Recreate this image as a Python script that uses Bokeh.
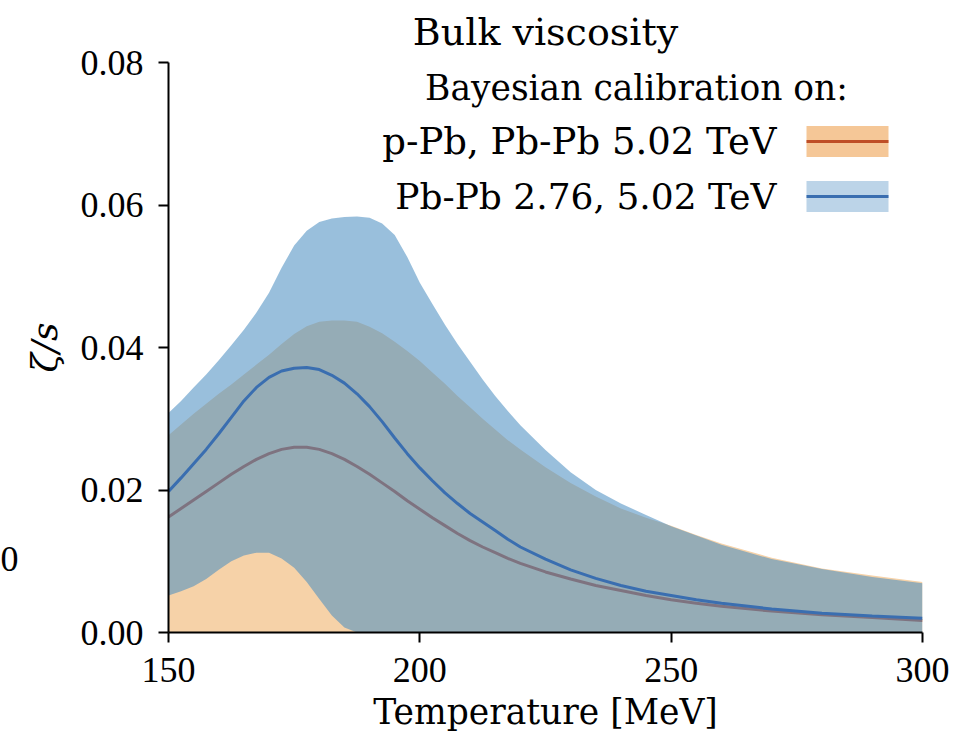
from bokeh.plotting import figure
from bokeh.layouts import row
from bokeh.models import (ColumnDataSource, FixedTicker, NumeralTickFormatter,
                          Label, BoxAnnotation, Range1d)
from bokeh.embed import file_html
from bokeh.resources import INLINE

# ---------------- data ----------------
temperature = [150, 152.5, 155, 157.5, 160, 162.5, 165, 167.5, 170, 172.5,
               175, 177.5, 180, 182.5, 185, 187.5, 190, 192.5, 195, 197.5,
               200, 202.5, 205, 207.5, 210, 212.5, 215, 217.5, 220, 225,
               230, 235, 240, 245, 250, 255, 260, 270, 280, 290, 300]

# p-Pb, Pb-Pb 5.02 TeV  (orange band + median)
ppb_lower = [0.0] * 41
ppb_upper = [0.0277, 0.0292, 0.0307, 0.0321, 0.0335, 0.0348, 0.0362, 0.0376,
             0.0390, 0.0405, 0.0419, 0.0430, 0.0436, 0.0438, 0.0438, 0.0436,
             0.0429, 0.0420, 0.0408, 0.0395, 0.0381, 0.0365, 0.0349, 0.0332,
             0.0316, 0.0300, 0.0285, 0.0270, 0.0257, 0.0232, 0.0210, 0.0191,
             0.0174, 0.0161, 0.0150, 0.0137, 0.0125, 0.0105, 0.0090, 0.0080,
             0.0071]
ppb_median = [0.0162, 0.0174, 0.0186, 0.0198, 0.0210, 0.0222, 0.0233, 0.0243,
              0.0251, 0.0257, 0.0260, 0.0260, 0.0257, 0.0251, 0.0243, 0.0233,
              0.0222, 0.0210, 0.0198, 0.0185, 0.0173, 0.0161, 0.0150, 0.0139,
              0.0129, 0.0120, 0.0112, 0.0104, 0.0097, 0.0085, 0.0075, 0.0066,
              0.0059, 0.0052, 0.0046, 0.0041, 0.0037, 0.0030, 0.0025, 0.0021,
              0.0017]

# Pb-Pb 2.76, 5.02 TeV  (blue band + median)
pbpb_lower = [0.0052, 0.0058, 0.0065, 0.0075, 0.0088, 0.0100, 0.0108, 0.0112,
              0.0112, 0.0104, 0.0091, 0.0071, 0.0047, 0.0024, 0.0007, 0.0,
              0.0, 0.0, 0.0, 0.0, 0.0, 0.0, 0.0, 0.0, 0.0, 0.0, 0.0, 0.0, 0.0,
              0.0, 0.0, 0.0, 0.0, 0.0, 0.0, 0.0, 0.0, 0.0, 0.0, 0.0, 0.0]
pbpb_upper = [0.0308, 0.0325, 0.0344, 0.0362, 0.0382, 0.0403, 0.0425, 0.0449,
              0.0477, 0.0512, 0.0543, 0.0564, 0.0576, 0.0581, 0.0583, 0.0584,
              0.0582, 0.0574, 0.0558, 0.0527, 0.0491, 0.0461, 0.0432, 0.0405,
              0.0380, 0.0355, 0.0332, 0.0311, 0.0291, 0.0256, 0.0225, 0.0200,
              0.0181, 0.0165, 0.0149, 0.0136, 0.0123, 0.0103, 0.0089, 0.0078,
              0.0069]
pbpb_median = [0.0198, 0.0217, 0.0237, 0.0257, 0.0279, 0.0302, 0.0325, 0.0344,
               0.0358, 0.0367, 0.0371, 0.0372, 0.0369, 0.0361, 0.0350, 0.0335,
               0.0317, 0.0296, 0.0273, 0.0251, 0.0231, 0.0213, 0.0196, 0.0181,
               0.0167, 0.0155, 0.0143, 0.0131, 0.0120, 0.0103, 0.0088, 0.0076,
               0.0066, 0.0058, 0.0052, 0.0046, 0.0041, 0.0033, 0.0027, 0.0023,
               0.0020]

x_ticks = [150, 200, 250, 300]
y_ticks = [0.0, 0.02, 0.04, 0.06, 0.08]
title_text = "Bulk viscosity"
legend_title = "Bayesian calibration on:"
series_labels = ["p-Pb, Pb-Pb 5.02 TeV", "Pb-Pb 2.76, 5.02 TeV"]
x_label = "Temperature [MeV]"
y_label = "ζ/s"
edge_fragment = "0"   # tick-label fragment of a neighbouring panel

# ---------------- styles ----------------
TEXT_FONT = "DejaVu Serif"
TICK_FONT = "Liberation Serif"
ORANGE_FILL = "#f6d2a8"
ORANGE_LINE = "#c0502a"
BLUE_FILL = "#4b8fc2"
BLUE_ALPHA = 0.57
BLUE_LINE = "#3a6eb0"

src = ColumnDataSource(dict(t=temperature, ppb_lo=ppb_lower, ppb_hi=ppb_upper,
                            ppb_med=ppb_median, pb_lo=pbpb_lower,
                            pb_hi=pbpb_upper, pb_med=pbpb_median))

STUB_W = 18
p = figure(width=956 - STUB_W, height=745, x_range=Range1d(150, 300),
           y_range=Range1d(0, 0.08), output_backend="svg",
           toolbar_location=None, min_border_left=168 - STUB_W,
           min_border_right=34, min_border_top=62, min_border_bottom=113)
p.background_fill_color = "white"
p.border_fill_color = "white"
p.outline_line_color = None
p.xgrid.visible = False
p.ygrid.visible = False

p.title.text = title_text
p.title.align = "center"
p.title.vertical_align = "top"
p.title.text_font = TEXT_FONT
p.title.text_font_size = "38px"
p.title.text_font_style = "normal"
p.title.text_color = "black"
p.title.standoff = 14

p.varea(x="t", y1="ppb_lo", y2="ppb_hi", source=src,
        fill_color=ORANGE_FILL, fill_alpha=1.0)
p.line(x="t", y="ppb_med", source=src, line_color=ORANGE_LINE, line_width=3)
p.varea(x="t", y1="pb_lo", y2="pb_hi", source=src,
        fill_color=BLUE_FILL, fill_alpha=BLUE_ALPHA)
p.line(x="t", y="pb_med", source=src, line_color=BLUE_LINE, line_width=3)

for ax in (p.xaxis[0], p.yaxis[0]):
    ax.axis_line_width = 2
    ax.axis_line_color = "black"
    ax.major_tick_line_width = 2
    ax.major_tick_line_color = "black"
    ax.major_tick_out = 10
    ax.major_tick_in = 0
    ax.minor_tick_out = 0
    ax.minor_tick_in = 0
    ax.major_label_text_font = TICK_FONT
    ax.major_label_text_font_size = "36px"
    ax.major_label_text_color = "black"
    ax.axis_label_text_font = TEXT_FONT
    ax.axis_label_text_color = "black"

p.xaxis.ticker = FixedTicker(ticks=x_ticks)
p.yaxis.ticker = FixedTicker(ticks=y_ticks)
p.yaxis.formatter = NumeralTickFormatter(format="0.00")
p.xaxis.major_label_standoff = 15
p.yaxis.major_label_standoff = 15

p.xaxis.axis_label = x_label
p.xaxis.axis_label_text_font_size = "34.5px"
p.xaxis.axis_label_text_font_style = "normal"
p.xaxis.axis_label_standoff = 7
p.yaxis.axis_label = y_label
p.yaxis.axis_label_text_font_size = "36px"
p.yaxis.axis_label_text_font_style = "italic"
p.yaxis.axis_label_standoff = 13

# legend (text left, handle right, as in the reference)
p.add_layout(Label(x=468, y=545, x_units="screen", y_units="screen",
                   text=legend_title, text_align="center",
                   text_baseline="middle", text_font=TEXT_FONT,
                   text_font_size="34.5px", text_color="black"))
for lab, yc, fs, fc, lc in [(series_labels[0], 491, "37px", "#f5c797", "#bf4e26"),
                            (series_labels[1], 436, "36px", "#bcd4e8", "#3a6eb0")]:
    p.add_layout(Label(x=608, y=yc, x_units="screen", y_units="screen",
                       text=lab, text_align="right", text_baseline="middle",
                       text_font=TEXT_FONT, text_font_size=fs,
                       text_color="black"))
    p.add_layout(BoxAnnotation(left=638, right=720, bottom=yc - 15.5,
                               top=yc + 15.5, left_units="screen",
                               right_units="screen", bottom_units="screen",
                               top_units="screen", fill_color=fc,
                               fill_alpha=1.0, line_color=None))
    p.add_layout(BoxAnnotation(left=638, right=720, bottom=yc - 1.5,
                               top=yc + 1.5, left_units="screen",
                               right_units="screen", bottom_units="screen",
                               top_units="screen", fill_color=lc,
                               fill_alpha=1.0, line_color=None))

# narrow strip at the far left holding the neighbouring panel's label fragment
stub = figure(width=STUB_W, height=745, output_backend="svg",
              toolbar_location=None, min_border=0, x_axis_location=None,
              y_axis_location=None, x_range=Range1d(0, 1),
              y_range=Range1d(0, 1))
stub.outline_line_color = None
stub.grid.visible = False
stub.background_fill_color = "white"
stub.border_fill_color = "white"
stub.add_layout(Label(x=0, y=74, x_units="screen", y_units="screen",
                      text=edge_fragment, text_align="left",
                      text_baseline="middle", text_font=TICK_FONT,
                      text_font_size="36px", text_color="black"))

layout = row(stub, p)
open("out.html", "w").write(file_html(layout, INLINE))
